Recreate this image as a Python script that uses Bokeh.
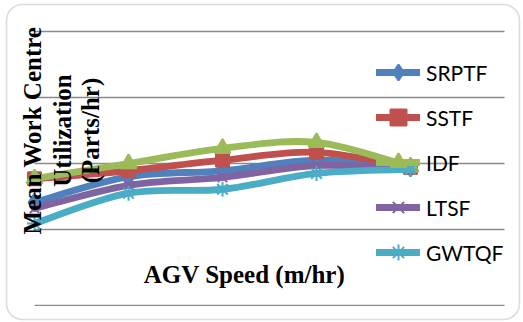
import math
from bokeh.plotting import figure
from bokeh.models import Range1d, Legend, LegendItem, Label, BoxAnnotation
from bokeh.embed import file_html
from bokeh.resources import INLINE

# ---- data (no tick labels are shown on the chart) ----
agv_speed_levels = [1, 2, 3, 4, 5]
srptf = [2.41, 2.80, 2.89, 3.05, 2.94]
sstf = [2.77, 2.89, 3.05, 3.17, 2.94]
idf = [2.77, 3.00, 3.23, 3.32, 2.95]
ltsf = [2.32, 2.67, 2.79, 2.97, 2.92]
gwtqf = [2.09, 2.55, 2.61, 2.85, 2.91]
series_names = ["SRPTF", "SSTF", "IDF", "LTSF", "GWTQF"]
gridline_values = [2, 3, 4, 5]
axis_min = 0.85
category_slots = 6

series_values = [srptf, sstf, idf, ltsf, gwtqf]
colors = ["#4F81BD", "#C0504D", "#9BBB59", "#8064A2", "#4BACC6"]
markers = [
    dict(marker="diamond", size=18),
    dict(marker="square", size=13),
    dict(marker="triangle", size=16),
    dict(marker="x", size=13),
    dict(marker="asterisk", size=15),
]


def smooth_segments(xs, ys):
    """Excel-like smoothed line: cubic Bezier pieces through the data points."""
    n = len(xs)
    d = dict(x0=[], y0=[], x1=[], y1=[], cx0=[], cy0=[], cx1=[], cy1=[])
    for i in range(n - 1):
        xm, ym = (xs[i - 1], ys[i - 1]) if i > 0 else (xs[i], ys[i])
        xp, yp = (xs[i + 2], ys[i + 2]) if i + 2 < n else (xs[i + 1], ys[i + 1])
        d["x0"].append(xs[i]); d["y0"].append(ys[i])
        d["x1"].append(xs[i + 1]); d["y1"].append(ys[i + 1])
        d["cx0"].append(xs[i] + (xs[i + 1] - xm) / 6.0)
        d["cy0"].append(ys[i] + (ys[i + 1] - ym) / 6.0)
        d["cx1"].append(xs[i + 1] - (xp - xs[i]) / 6.0)
        d["cy1"].append(ys[i + 1] - (yp - ys[i]) / 6.0)
    return d


p = figure(
    width=523, height=322,
    x_range=Range1d(0.638, 6.202), y_range=Range1d(0.591, 5.470),
    output_backend="svg", toolbar_location=None, min_border=0,
    x_axis_location=None, y_axis_location=None,
)
p.outline_line_color = None
p.xgrid.visible = False
p.ygrid.visible = False
p.background_fill_color = "white"

# horizontal gridlines spanning the category axis, plus the bottom axis line
first, last = agv_speed_levels[0], agv_speed_levels[0] + category_slots - 1
for g in gridline_values + [axis_min]:
    p.segment(x0=[first], y0=[g], x1=[last], y1=[g], line_color="#8a8a8a", line_width=1.4)

items = []
for name, vals, col, mk in zip(series_names, series_values, colors, markers):
    seg = smooth_segments(agv_speed_levels, vals)
    lr = p.bezier(line_color=col, line_width=6.8, line_cap="round", **seg)
    mr = p.scatter(agv_speed_levels, vals, marker=mk["marker"], size=mk["size"],
                   fill_color=col, line_color=col, line_width=2)
    items.append(LegendItem(label=name, renderers=[lr, mr]))

legend = Legend(
    items=items, location=(376, 50), glyph_width=44, glyph_height=40,
    spacing=5, padding=0, margin=0, label_standoff=6,
    border_line_color=None, background_fill_alpha=0,
    label_text_font="Lato", label_text_font_size="21px", label_text_color="#000000",
)
p.add_layout(legend)

serif = dict(text_font="Liberation Serif", text_font_style="bold", text_font_size="25px",
             text_color="#000000")
for txt, xpos in [("Mean Work Centre", 32), ("Utilization", 62), ("(Parts/hr)", 90)]:
    p.add_layout(Label(x=xpos, y=192, x_units="screen", y_units="screen", text=txt,
                       angle=math.pi / 2, text_align="center", text_baseline="middle",
                       **serif))
p.add_layout(Label(x=244, y=48, x_units="screen", y_units="screen", text="AGV Speed (m/hr)",
                   text_align="center", text_baseline="middle", **serif))

p.add_layout(BoxAnnotation(left=6, right=519, top=318, bottom=3,
                           left_units="screen", right_units="screen",
                           top_units="screen", bottom_units="screen",
                           fill_alpha=0, line_color="#8a8a8a", line_width=1.6,
                           border_radius=16))

open("out.html", "w").write(file_html(p, INLINE))
